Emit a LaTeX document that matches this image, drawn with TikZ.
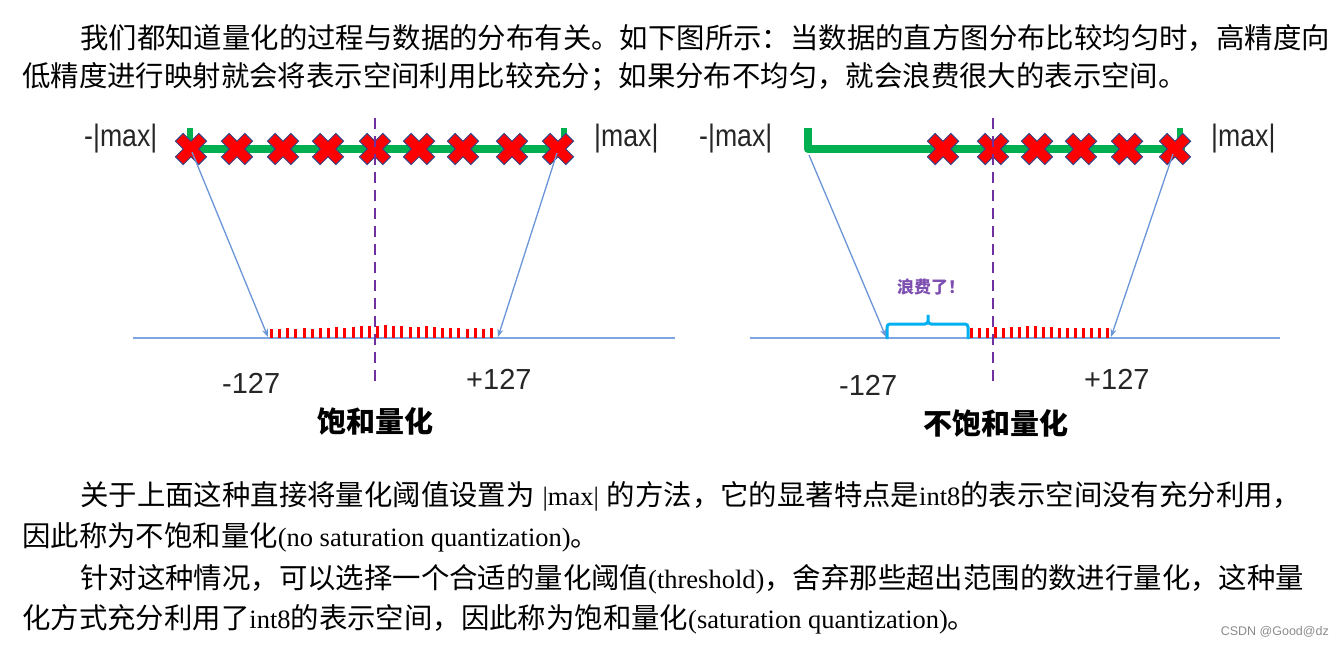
\documentclass[tikz,border=0pt]{standalone}
\usepackage{fontspec}
\setmainfont{Liberation Serif}
\newfontfamily\cjk{Noto Sans CJK SC}
\newfontfamily\lblfont{Liberation Sans}
\newfontfamily\lblcond[FakeStretch=0.86]{Liberation Sans}
\usetikzlibrary{arrows.meta}
\XeTeXlinebreaklocale "zh"
\XeTeXlinebreakskip=0pt plus 1pt
\newcommand\zhs[1]{{\cjk\fontsize{28.4}{32}\selectfont #1}}
\definecolor{qgreen}{HTML}{00B050}
\definecolor{qred}{HTML}{FF0000}
\definecolor{qnavy}{HTML}{34488A}
\definecolor{qpurple}{HTML}{7030A0}
\definecolor{qblue}{HTML}{6A96D8}
\definecolor{qaxis}{HTML}{7EA6E0}
\definecolor{qcyan}{HTML}{00B0F0}
\definecolor{qlabel}{HTML}{7D4FB0}
\begin{document}
\begin{tikzpicture}[x=1pt,y=-1pt,
  txt/.style={inner sep=0pt, anchor=base west, font=\fontsize{26.5}{30}\selectfont},
  maxlbl/.style={inner sep=0pt, anchor=base west, font=\lblcond\fontsize{31}{34}\selectfont, text=black!85},
  numlbl/.style={inner sep=0pt, anchor=base west, font=\lblfont\fontsize{29}{32}\selectfont, text=black!85},
  title/.style={inner sep=0pt, font=\cjk\bfseries\fontsize{29}{32}\selectfont},
  greenbar/.style={draw=qgreen, line width=8pt},
  greenstub/.style={draw=qgreen, line width=6pt},
  axisline/.style={draw=qaxis, line width=1.4pt},
  maparrow/.style={draw=qblue, line width=1.3pt, -{Stealth[length=8pt,width=6pt]}},
  zeroline/.style={draw=qpurple, line width=2.6pt, dash pattern=on 11pt off 7pt},
  tickbar/.style={fill=qred},
  xmk/.pic={\path[fill=qred, draw=qnavy, line width=1pt, rotate=45]
     (-5.5,16.5)--(5.5,16.5)--(5.5,5.5)--(16.5,5.5)--(16.5,-5.5)--(5.5,-5.5)--(5.5,-16.5)--(-5.5,-16.5)
     --(-5.5,-5.5)--(-16.5,-5.5)--(-16.5,5.5)--(-5.5,5.5)--cycle;}
]
\useasboundingbox (0,0) rectangle (1343,648);
\fill[white] (0,0) rectangle (1343,648);

% ---------- text paragraphs ----------
\node[txt] (p1) at (80,48) {\zhs{我们都知道量化的过程与数据的分布有关。如下图所示：当数据的直方图分布比较均匀时，高精度向}};
\node[txt] (p2) at (22,86) {\zhs{低精度进行映射就会将表示空间利用比较充分；如果分布不均匀，就会浪费很大的表示空间。}};
\node[txt] (p3) at (80,505) {\hbox to 1250pt{\zhs{关于上面这种直接将量化阈值设置为}\hspace{8pt}|max|\hspace{8pt}\zhs{的方法，它的显著特点是}int8\zhs{的表示空间没有充分利用，}}};
\node[txt] (p4) at (22,546) {\zhs{因此称为不饱和量化}(no saturation quantization)\zhs{。}};
\node[txt] (p5) at (80,588) {\hbox to 1232pt{\zhs{针对这种情况，可以选择一个合适的量化阈值}(threshold)\zhs{，舍弃那些超出范围的数进行量化，这种量}}};
\node[txt] (p6) at (22,628) {\zhs{化方式充分利用了}int8\zhs{的表示空间，因此称为饱和量化}(saturation quantization)\zhs{。}};
\node[inner sep=0pt, anchor=east, font=\lblfont\fontsize{12.5}{14}\selectfont, text=black!45] (wm) at (1329,632) {CSDN @Good@dz};

% ---------- left diagram: saturation ----------
\draw[greenbar] (188,149) -- (566,149);
\draw[greenstub] (190,151) -- (190,128);
\draw[greenstub] (564,151) -- (564,128);
\foreach \x [count=\k] in {191,237,283,328,375,419,463,512,558}
  \pic (lx\k) at (\x,149) {xmk};
\node[maxlbl] (lmaxn) at (84,146) {-|max|};
\node[maxlbl] (lmaxp) at (594,146) {|max|};

\draw[axisline] (133,338) -- (675,338);
\foreach \h [count=\i from 0] in {9,9,10,9,10,9,10,10,11,10,11,12,12,12,13,12,12,11,11,12,11,10,10,10,9,10,9,10}
  \fill[tickbar] ({270+\i*8.15},338) rectangle ++(3,-\h);

\coordinate (ls1) at (192,152);
\coordinate (le1) at (268,337);
\coordinate (ls2) at (557,153);
\coordinate (le2) at (498,337);
\draw[maparrow] (ls1) -- (le1);
\draw[maparrow] (ls2) -- (le2);

\node[numlbl] (lneg) at (222,393) {-127};
\node[numlbl] (lpos) at (466,389) {+127};
\node[title] (ltitle) at (375,421) {饱和量化};
\draw[zeroline] (375,118) -- (375,386);

% ---------- right diagram: no saturation ----------
\draw[greenbar, line join=round] (808,128) -- (808,149) -- (1185,149);
\draw[greenstub] (1180,151) -- (1180,128);
\foreach \x [count=\k] in {943,993,1037,1081,1127,1175}
  \pic (rx\k) at (\x,149) {xmk};
\node[maxlbl] (rmaxn) at (699,146) {-|max|};
\node[maxlbl] (rmaxp) at (1211,146) {|max|};

\draw[axisline] (750,338) -- (1280,338);
\foreach \h [count=\i from 0] in {10,10,10,11,10,11,11,12,12,11,11,10,10,10,10,10,10,10}
  \fill[tickbar] ({970+\i*8},338) rectangle ++(3,-\h);

\draw[qcyan, line width=3pt, rounded corners=3pt]
  (887,339) |- (928,324) -- (928,313) -- (928,324) -| (968,339);
\node[inner sep=0pt, font=\cjk\bfseries\fontsize{17}{20}\selectfont, text=qlabel] (waste) at (931,287) {浪费了！};

\coordinate (rs1) at (809,155);
\coordinate (re1) at (886,337);
\coordinate (rs2) at (1173,154);
\coordinate (re2) at (1111,337);
\draw[maparrow] (rs1) -- (re1);
\draw[maparrow] (rs2) -- (re2);

\node[numlbl] (rneg) at (839,395) {-127};
\node[numlbl] (rpos) at (1084,389) {+127};
\node[title] (rtitle) at (996,423) {不饱和量化};
\draw[zeroline] (993,118) -- (993,386);
\end{tikzpicture}
\end{document}
